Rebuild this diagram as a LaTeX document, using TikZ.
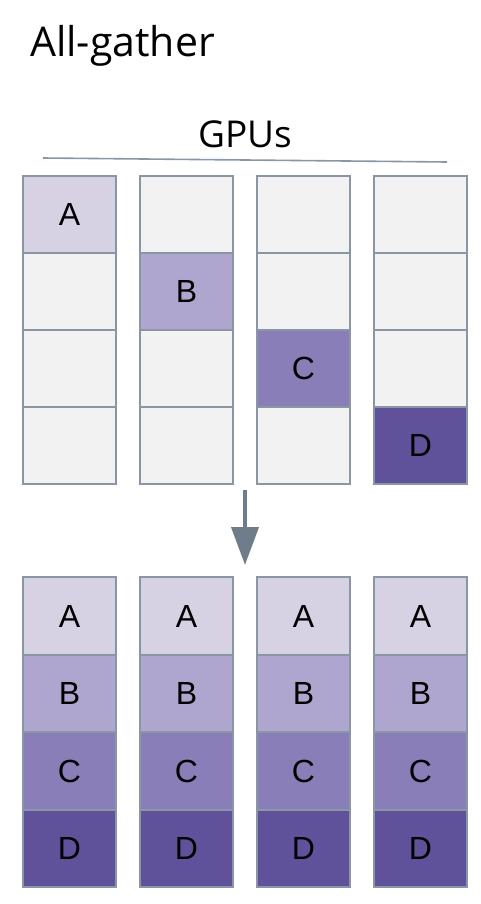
\documentclass[tikz,border=0pt]{standalone}
\usepackage{fontspec}
\setmainfont{Liberation Sans}
\newfontfamily\titolofont{Open Sans}
\usetikzlibrary{arrows.meta}
\definecolor{bordo}{HTML}{8A96A3}
\definecolor{vuoto}{HTML}{F2F2F2}
\definecolor{colA}{HTML}{D6D2E4}
\definecolor{colB}{HTML}{AFA6CF}
\definecolor{colC}{HTML}{8A7EB9}
\definecolor{colD}{HTML}{5F529B}
\definecolor{freccia}{HTML}{6F7D8A}

\begin{document}
\begin{tikzpicture}[x=1pt,y=-1pt,
	cella/.style={draw=bordo,line width=1.6pt,fill=vuoto,inner sep=0pt,
		minimum width=93pt,minimum height=77pt,font=\fontsize{32}{32}\selectfont},
	scritta/.style={inner sep=0pt,font=\titolofont\fontsize{#1}{#1}\selectfont}]
	\useasboundingbox (0,0) rectangle (480,904);
	% titolo
	\node[scritta=41,anchor=base west] (titolo) at (30,57) {All-gather};
	\node[scritta=37,anchor=base] (gpu) at (245,148) {GPUs};
	\coordinate (lineaS) at (43,158);
	\coordinate (lineaD) at (447,162);
	\draw[bordo,line width=1.6pt] (lineaS) -- (lineaD);
	% prima
	\foreach \c in {1,...,4}
		\foreach \r in {1,...,4}
			\node[cella] (su-\c-\r) at ({69.5+117*(\c-1)},{214.5+77*(\r-1)}) {};
	\foreach \c/\l in {1/A,2/B,3/C,4/D}
		\node[cella,fill=col\l] (dato-\l) at (su-\c-\c) {\l};
	% freccia
	\coordinate (frecciaS) at (245,490);
	\coordinate (frecciaE) at (245,565);
	\draw[freccia,line width=4pt,-{Triangle[length=38pt,width=27pt]}] (frecciaS) -- (frecciaE);
	% dopo
	\foreach \c in {1,...,4}
		\foreach \r/\l in {1/A,2/B,3/C,4/D}
			\node[cella,fill=col\l,minimum height=77.5pt] (giu-\c-\r) at ({69.5+117*(\c-1)},{616+77.5*(\r-1)}) {\l};
\end{tikzpicture}
\end{document}
